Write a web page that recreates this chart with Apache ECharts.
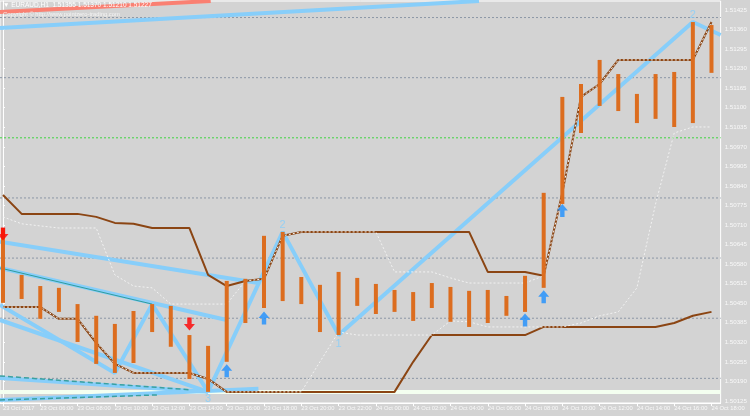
<!DOCTYPE html>
<html>
<head>
<meta charset="utf-8">
<script src="https://cdn.jsdelivr.net/npm/echarts@6/dist/echarts.min.js"></script>
<style>
  html, body { margin: 0; padding: 0; background: #d3d3d3; }
  #chart { width: 750px; height: 416px; }
</style>
</head>
<body>
<div id="chart"></div>
<script>
// EURAUD H1, bar 0 = 23 Oct 04:00, one bar per hour
const highs = [1.50700, 1.50544, 1.50507, 1.50501, 1.50447, 1.50408, 1.50381, 1.50424, 1.50447, 1.50441,
  1.50344, 1.50308, 1.50524, 1.50531, 1.50674, 1.50687, 1.50537, 1.50511, 1.50554, 1.50534,
  1.50514, 1.50494, 1.50487, 1.50517, 1.50504, 1.50491, 1.50494, 1.50474, 1.50541, 1.50817,
  1.51136, 1.51179, 1.51259, 1.51212, 1.51146, 1.51212, 1.51219, 1.51385, 1.51375];
const lows = [1.50451, 1.50464, 1.50398, 1.50421, 1.50321, 1.50248, 1.50218, 1.50251, 1.50354, 1.50305,
  1.50198, 1.50155, 1.50255, 1.50384, 1.50434, 1.50457, 1.50447, 1.50354, 1.50344, 1.50441,
  1.50414, 1.50421, 1.50391, 1.50434, 1.50388, 1.50371, 1.50384, 1.50408, 1.50421, 1.50501,
  1.50780, 1.51016, 1.51106, 1.51089, 1.51049, 1.51063, 1.51036, 1.51049, 1.51216];

// slow channel (brown)
const upperBand = [1.50810, 1.50747, 1.50747, 1.50747, 1.50747, 1.50737, 1.50717, 1.50714, 1.50700, 1.50700,
  1.50700, 1.50544, 1.50507, 1.50524, 1.50531, 1.50674, 1.50687, 1.50687, 1.50687, 1.50687,
  1.50687, 1.50687, 1.50687, 1.50687, 1.50687, 1.50687, 1.50554, 1.50554, 1.50554, 1.50541,
  1.50817, 1.51136, 1.51179, 1.51259, 1.51259, 1.51259, 1.51259, 1.51259, 1.51385];
const lowerBand = [1.50437, 1.50437, 1.50437, 1.50398, 1.50398, 1.50318, 1.50248, 1.50218, 1.50218, 1.50218,
  1.50218, 1.50198, 1.50155, 1.50155, 1.50155, 1.50155, 1.50155, 1.50155, 1.50155, 1.50155,
  1.50155, 1.50155, 1.50255, 1.50344, 1.50344, 1.50344, 1.50344, 1.50344, 1.50344, 1.50371,
  1.50371, 1.50371, 1.50371, 1.50371, 1.50371, 1.50371, 1.50384, 1.50408, 1.50421];

// fast channel (white dotted)
const fastUpper = [1.50737, 1.50714, 1.50707, 1.50700, 1.50700, 1.50700, 1.50544, 1.50507, 1.50501, 1.50447,
  1.50447, 1.50447, 1.50447, 1.50524, 1.50531, 1.50674, 1.50687, 1.50687, 1.50687, 1.50687,
  1.50687, 1.50554, 1.50554, 1.50554, 1.50534, 1.50517, 1.50517, 1.50517, 1.50517, 1.50541,
  1.50817, 1.51136, 1.51179, 1.51259, 1.51259, 1.51259, 1.51259, 1.51259, 1.51385];
const fastLower = [1.50437, 1.50437, 1.50437, 1.50398, 1.50398, 1.50321, 1.50248, 1.50218, 1.50218, 1.50218,
  1.50218, 1.50198, 1.50155, 1.50155, 1.50155, 1.50155, 1.50155, 1.50255, 1.50354, 1.50344,
  1.50344, 1.50344, 1.50344, 1.50344, 1.50391, 1.50388, 1.50371, 1.50371, 1.50371, 1.50371,
  1.50371, 1.50384, 1.50408, 1.50421, 1.50501, 1.50780, 1.51016, 1.51036, 1.51036];

const timeLabels = ['23 Oct 2017', '23 Oct 06:00', '23 Oct 08:00', '23 Oct 10:00', '23 Oct 12:00',
  '23 Oct 14:00', '23 Oct 16:00', '23 Oct 18:00', '23 Oct 20:00', '23 Oct 22:00',
  '24 Oct 00:00', '24 Oct 02:00', '24 Oct 04:00', '24 Oct 06:00', '24 Oct 08:00',
  '24 Oct 10:00', '24 Oct 12:00', '24 Oct 14:00', '24 Oct 16:00', '24 Oct 18:00'];
const timeTicks = [0, 2, 4, 6, 8, 10, 12, 14, 16, 18, 20, 22, 24, 26, 28, 30, 32, 34, 36, 38];
const priceTicks = [1.50125, 1.50190, 1.50255, 1.50320, 1.50385, 1.50450, 1.50515, 1.50580, 1.50645,
  1.50710, 1.50775, 1.50840, 1.50905, 1.50970, 1.51035, 1.51100, 1.51165, 1.51230, 1.51295,
  1.51360, 1.51425];

const levels = [1.502, 1.504, 1.506, 1.508, 1.512, 1.514];
const midLevel = 1.510;
const supportLevel = 1.50155;

// zigzag turning points [bar, price]
const zigzag = [[-0.16, 1.50444], [6, 1.50218], [8, 1.50447], [11, 1.50155], [15, 1.50687],
  [18, 1.50344], [37, 1.51385], [38.49, 1.51342]];
const waveLabels = [[11, 1.50132, '3'], [15, 1.50710, '2'], [18, 1.50315, '1'], [37, 1.51408, '2']];

// trend lines, [start, end]
const blueLines = [
  [[-0.16, 1.51365], [25.53, 1.51455]],
  [[-0.16, 1.50654], [13.70, 1.50517]],
  [[-0.16, 1.50567], [12, 1.50394]],
  [[-0.16, 1.50394], [11, 1.50155]],
  [[-0.16, 1.50201], [11, 1.50155]],
  [[-0.16, 1.50128], [13.70, 1.50165]]
];
const redLine = [[-0.16, 1.51418], [11.14, 1.51455]];
const tealLine = [[-0.16, 1.50567], [8, 1.50447]];
const tealDashed = [
  [[-0.16, 1.50208], [10, 1.50162]],
  [[-0.16, 1.50128], [8.37, 1.50145]]
];

const buyArrows = [[12, 1.50225], [14, 1.50401], [28, 1.50394], [29, 1.50471], [30, 1.50758]];
const sellArrows = [[0, 1.50680], [10, 1.50381]];

const X_MIN = -0.16, X_MAX = 38.49;
const UP = 'path://M5,0 L10,6 L7,6 L7,12 L3,12 L3,6 L0,6 Z';
const DOWN = 'path://M3,0 L7,0 L7,6 L10,6 L5,12 L0,6 L3,6 Z';
const FONT = 'Liberation Sans';

const chart = echarts.init(document.getElementById('chart'));

function line(data, lineStyle, z) {
  return { type: 'line', data, symbol: 'none', silent: true, clip: true, lineStyle, z };
}
const idx = (arr) => arr.map((v, i) => [i, v]);
const hline = (v) => [[X_MIN, v], [X_MAX, v]];

const series = [];
levels.forEach(v => series.push(line(hline(v), { color: '#8c97a6', width: 1, type: [2, 2] }, 1)));
series.push(line(hline(midLevel), { color: '#3fd43f', width: 1, type: [2, 2] }, 1));
series.push(line(hline(supportLevel), { color: '#f4fff0', width: 4 }, 1));
blueLines.forEach(l => series.push(line(l, { color: '#87cefa', width: 4 }, 2)));
series.push(line(redLine, { color: '#fa8072', width: 4 }, 2));
series.push(line(tealLine, { color: '#2f9c9c', width: 1 }, 3));
tealDashed.forEach(l => series.push(line(l, { color: '#3aa0a0', width: 1.5, type: [5, 3] }, 3)));
series.push(line(zigzag, { color: '#87cefa', width: 4 }, 2));
series.push(line(idx(upperBand), { color: '#8b4513', width: 2 }, 3));
series.push(line(idx(lowerBand), { color: '#8b4513', width: 2 }, 3));
series.push(line(idx(fastUpper), { color: '#f2f2f2', width: 1, type: [2, 2] }, 4));
series.push(line(idx(fastLower), { color: '#f2f2f2', width: 1, type: [2, 2] }, 4));
series.push({
  type: 'custom', z: 5, silent: true,
  data: highs.map((h, i) => [i, lows[i], h]),
  renderItem: (params, api) => {
    const lo = api.coord([api.value(0), api.value(1)]);
    const hi = api.coord([api.value(0), api.value(2)]);
    return {
      type: 'rect',
      shape: { x: lo[0] - 2, y: hi[1], width: 4, height: lo[1] - hi[1] },
      style: { fill: '#dc6d1f' }
    };
  }
});
series.push({ type: 'scatter', data: buyArrows, symbol: UP, symbolSize: [11, 13], itemStyle: { color: '#1e90ff' }, z: 6, silent: true });
series.push({ type: 'scatter', data: sellArrows, symbol: DOWN, symbolSize: [11, 13], itemStyle: { color: '#ff0000' }, z: 6, silent: true });
series.push({
  type: 'scatter', data: waveLabels, symbolSize: 0, z: 7, silent: true,
  label: { show: true, position: 'inside', formatter: p => p.data[2], color: '#87cefa', fontSize: 11, fontFamily: FONT }
});

chart.setOption({
  animation: false,
  backgroundColor: '#d3d3d3',
  grid: { left: 0, right: 25, top: 1, bottom: 13, show: true, borderColor: '#ffffff', borderWidth: 1, backgroundColor: '#d3d3d3' },
  xAxis: {
    type: 'value', min: X_MIN, max: X_MAX,
    splitLine: { show: false },
    axisLine: { show: true, lineStyle: { color: '#ffffff' } },
    axisTick: { show: true, customValues: timeTicks, length: 3, lineStyle: { color: '#ffffff' } },
    axisLabel: {
      customValues: timeTicks, align: 'left', margin: 2, color: '#f8f8f8', fontSize: 5.8, fontFamily: FONT,
      formatter: v => timeLabels[Math.round(v / 2)]
    }
  },
  yAxis: {
    type: 'value', position: 'right', min: 1.50118, max: 1.51455, scale: true,
    splitLine: { show: false },
    axisLine: { show: true, lineStyle: { color: '#ffffff' } },
    axisTick: { show: true, customValues: priceTicks, length: 2, lineStyle: { color: '#ffffff' } },
    axisLabel: {
      customValues: priceTicks, margin: 4, color: '#f8f8f8', fontSize: 6.2, fontFamily: FONT,
      formatter: v => v.toFixed(5)
    }
  },
  graphic: [
    { type: 'text', left: 3, top: 2, z: 10, style: { text: '▼ EURAUD,H1  1.51355 1.51370 1.51210 1.51227', fill: '#ffffff', font: '6.5px "Liberation Sans"' } },
    { type: 'text', left: 3, top: 11, z: 10, style: { text: 'Copyright © http://www.pointzero-trading.com', fill: '#f4f4f4', font: '5.8px "Liberation Sans"' } }
  ],
  series
});
</script>
</body>
</html>
